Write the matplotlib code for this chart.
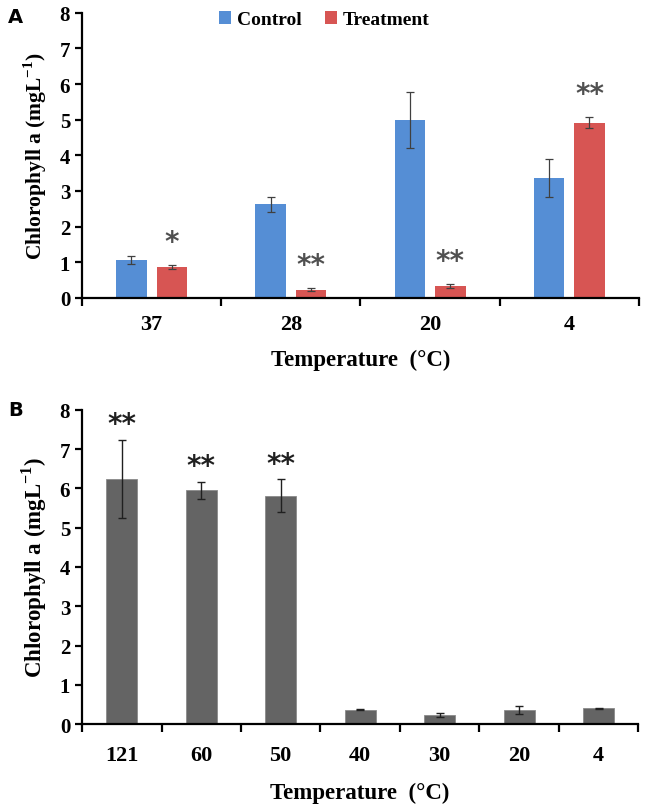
import matplotlib
matplotlib.use("Agg")
import matplotlib.pyplot as plt
import numpy as np

# Panel A data
temps_a = ["37", "28", "20", "4"]
control = [1.06, 2.62, 4.99, 3.37]
control_err = [0.12, 0.22, 0.78, 0.53]
treatment = [0.87, 0.23, 0.33, 4.92]
treatment_err = [0.06, 0.05, 0.05, 0.16]
stars_a = ["*", "**", "**", "**"]

# Panel B data
temps_b = ["121", "60", "50", "40", "30", "20", "4"]
chl_b = [6.25, 5.95, 5.82, 0.37, 0.23, 0.37, 0.40]
chl_b_err = [0.99, 0.21, 0.41, 0.02, 0.06, 0.10, 0.02]
stars_b = ["**", "**", "**", "", "", "", ""]

plt.rcParams["font.family"] = ["Liberation Serif", "DejaVu Serif"]
plt.rcParams["font.weight"] = "bold"
plt.rcParams["mathtext.fontset"] = "custom"
plt.rcParams["mathtext.rm"] = "Liberation Serif:bold"
plt.rcParams["mathtext.bf"] = "Liberation Serif:bold"

BLUE = "#558ED5"
RED = "#D75553"
GRAY = "#646464"

fig = plt.figure(figsize=(6.46, 8.12), dpi=100)
ax_a = fig.add_axes([0.127, 0.632, 0.862, 0.351])
ax_b = fig.add_axes([0.127, 0.107, 0.861, 0.387])


def style_axis(ax, labels, ylabel_size, xpad, xlabelpad):
    n = len(labels)
    for s in ["top", "right"]:
        ax.spines[s].set_visible(False)
    for s in ["left", "bottom"]:
        ax.spines[s].set_linewidth(1.6)
    ax.set_xlim(-0.5, n - 0.5)
    ax.set_ylim(0, 8)
    ax.set_yticks(range(0, 9))
    ax.set_xticks(np.arange(n + 1) - 0.5)
    ax.set_xticklabels([])
    ax.set_xticks(np.arange(n), minor=True)
    ax.set_xticklabels(labels, minor=True)
    ax.tick_params(axis="x", which="major", direction="out", length=6, width=1.6)
    ax.tick_params(axis="x", which="minor", length=0, pad=xpad, labelsize=16)
    ax.tick_params(axis="y", direction="out", length=5, width=1.6, labelsize=15)
    ax.set_xlabel("Temperature  (°C)", fontsize=16.5, fontweight="bold",
                  labelpad=xlabelpad)
    ax.set_ylabel("Chlorophyll a (mgL$^{\\mathbf{-1}}$)", fontsize=ylabel_size,
                  fontweight="bold", labelpad=8)


# Panel A
x = np.arange(len(temps_a))
w = 0.22
off = 0.145
ekw = dict(ecolor="#404040", elinewidth=0.9, capsize=3, capthick=0.9)
ax_a.bar(x - off, control, w, yerr=control_err, color=BLUE, label="Control",
         error_kw=ekw, zorder=2)
ax_a.bar(x + off, treatment, w, yerr=treatment_err, color=RED, label="Treatment",
         error_kw=ekw, zorder=2)
for i, s in enumerate(stars_a):
    top = treatment[i] + treatment_err[i]
    ax_a.text(x[i] + off, top + 0.65, s, ha="center", va="center",
              fontsize=20, color="#505050", family="DejaVu Sans")
style_axis(ax_a, temps_a, 15.5, 12, 10)
ax_a.legend(loc="center", bbox_to_anchor=(0.435, 0.975), ncol=2,
            frameon=False, handlelength=0.6, handleheight=0.6,
            handletextpad=0.3, columnspacing=1.2,
            prop={"family": "Liberation Serif", "weight": "bold", "size": 14})

# Panel B
xb = np.arange(len(temps_b))
ax_b.bar(xb, chl_b, 0.39, yerr=chl_b_err, color=GRAY, edgecolor="#8a8a8a",
         linewidth=0.6, error_kw=dict(ecolor="#202020", elinewidth=1.0,
                                      capsize=3, capthick=1.0), zorder=2)
for i, s in enumerate(stars_b):
    if s:
        ax_b.text(xb[i], chl_b[i] + chl_b_err[i] + 0.4, s, ha="center",
                  va="center", fontsize=20, color="#202020", family="DejaVu Sans")
style_axis(ax_b, temps_b, 16.5, 15, 12)

fig.text(0.012, 0.978, "A", fontsize=14, fontweight="bold", family="DejaVu Sans",
         va="center")
fig.text(0.012, 0.495, "B", fontsize=14, fontweight="bold", family="DejaVu Sans",
         va="center")

fig.savefig("out.png", dpi=100)
